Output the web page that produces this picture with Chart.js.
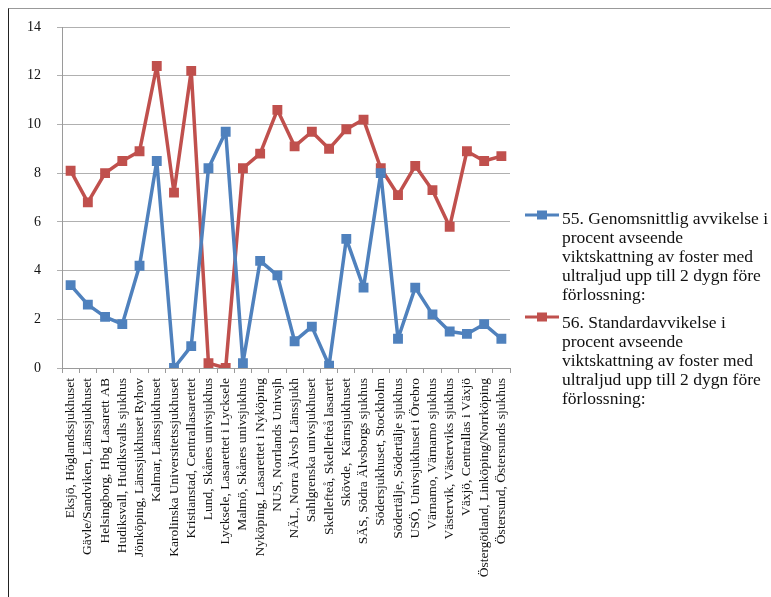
<!DOCTYPE html>
<html><head><meta charset="utf-8">
<script src="https://cdn.jsdelivr.net/npm/chart.js@4/dist/chart.umd.min.js"></script>
<style>
html,body{margin:0;padding:0;background:#fff;}
#wrap{position:absolute;left:0;top:0;width:771px;height:597px;}
#frame{position:absolute;left:8px;top:8px;width:763px;height:589px;border-left:1px solid #222;border-top:1px solid #999;pointer-events:none;}
canvas{position:absolute;left:0;top:0;}
</style></head><body>
<div id="wrap"><canvas id="c" width="771" height="597"></canvas><div id="frame"></div></div>
<script>
const categories = [
  "Eksjö, Höglandssjukhuset",
  "Gävle/Sandviken, Länssjukhuset",
  "Helsingborg, Hbg Lasarett AB",
  "Hudiksvall, Hudiksvalls sjukhus",
  "Jönköping, Länssjukhuset Ryhov",
  "Kalmar, Länssjukhuset",
  "Karolinska Universitetssjukhuset",
  "Kristianstad, Centrallasarettet",
  "Lund, Skånes univsjukhus",
  "Lycksele, Lasarettet i Lycksele",
  "Malmö, Skånes univsjukhus",
  "Nyköping, Lasarettet i Nyköping",
  "NUS, Norrlands Univsjh",
  "NÄL, Norra Älvsb Länssjukh",
  "Sahlgrenska univsjukhuset",
  "Skellefteå, Skellefteå lasarett",
  "Skövde,  Kärnsjukhuset",
  "SÄS, Södra Älvsborgs sjukhus",
  "Södersjukhuset, Stockholm",
  "Södertälje, Södertälje sjukhus",
  "USÖ, Univsjukhuset i Örebro",
  "Värnamo, Värnamo sjukhus",
  "Västervik, Västerviks sjukhus",
  "Växjö, Centrallas i Växjö",
  "Östergötland, Linköping/Norrköping",
  "Östersund, Östersunds sjukhus"
];
const avvikelse = [3.4, 2.6, 2.1, 1.8, 4.2, 8.5, 0.0, 0.9, 8.2, 9.7, 0.2, 4.4, 3.8, 1.1, 1.7, 0.1, 5.3, 3.3, 8.0, 1.2, 3.3, 2.2, 1.5, 1.4, 1.8, 1.2];
const standardavvikelse = [8.1, 6.8, 8.0, 8.5, 8.9, 12.4, 7.2, 12.2, 0.2, 0.0, 8.2, 8.8, 10.6, 9.1, 9.7, 9.0, 9.8, 10.2, 8.2, 7.1, 8.3, 7.3, 5.8, 8.9, 8.5, 8.7];
const yTickValues = [0, 2, 4, 6, 8, 10, 12, 14];
const seriesNames = [
  ["55. Genomsnittlig avvikelse i", "procent avseende", "viktskattning av foster med", "ultraljud upp till 2 dygn före", "förlossning:"],
  ["56. Standardavvikelse i", "procent avseende", "viktskattning av foster med", "ultraljud upp till 2 dygn före", "förlossning:"]
];
const seriesColors = ["#4F81BD", "#C0504D"];

const legendPlugin = {
  id: 'sideLegend',
  afterDraw(chart) {
    const ctx = chart.ctx;
    const x0 = 525, x1 = 559, tx = 562;
    const markerY = [215, 317];
    const baseY = [224, 328];
    const lh = 19;
    ctx.save();
    ctx.font = '17.5px "Liberation Serif"';
    ctx.textBaseline = 'alphabetic';
    ctx.textAlign = 'left';
    chart.data.datasets.forEach((ds, i) => {
      const y = markerY[i];
      ctx.strokeStyle = ds.borderColor;
      ctx.lineWidth = 3;
      ctx.beginPath(); ctx.moveTo(x0, y); ctx.lineTo(x1, y); ctx.stroke();
      ctx.fillStyle = ds.borderColor;
      ctx.fillRect(537, y - 4.5, 10, 9);
      ctx.fillStyle = '#111';
      ds.label.forEach((line, k) => ctx.fillText(line, tx, baseY[i] + k * lh));
    });
    ctx.restore();
  }
};

new Chart(document.getElementById('c'), {
  type: 'line',
  data: {
    labels: categories,
    datasets: [
      { label: seriesNames[0], data: avvikelse, borderColor: seriesColors[0], backgroundColor: seriesColors[0],
        borderWidth: 3.5, borderJoinStyle: 'round', pointStyle: 'rect', pointRadius: 4.5, tension: 0 },
      { label: seriesNames[1], data: standardavvikelse, borderColor: seriesColors[1], backgroundColor: seriesColors[1],
        borderWidth: 3.5, borderJoinStyle: 'round', pointStyle: 'rect', pointRadius: 4.5, tension: 0 }
    ]
  },
  options: {
    responsive: false,
    animation: false,
    layout: { padding: { left: 0, top: 27, right: 261, bottom: 0 } },
    plugins: { legend: { display: false }, tooltip: { enabled: false } },
    scales: {
      x: {
        offset: true,
        grid: { offset: true, drawOnChartArea: false, drawTicks: true, tickLength: 5, color: '#9a9a9a' },
        border: { color: '#9a9a9a', width: 1 },
        ticks: { autoSkip: false, maxRotation: 90, minRotation: 90, padding: 5, color: '#111',
                 font: { family: 'Liberation Serif', size: 13.5 } },
        afterFit(s) { s.height = 229; }
      },
      y: {
        min: 0, max: 14,
        afterBuildTicks(s) { s.ticks = yTickValues.map(v => ({ value: v })); },
        grid: { color: '#b0b0b0', tickLength: 5, lineWidth: 1 },
        border: { color: '#9a9a9a', width: 1 },
        ticks: { padding: 16, color: '#111', font: { family: 'Liberation Serif', size: 14 } },
        afterFit(s) { s.width = 62; }
      }
    }
  },
  plugins: [legendPlugin]
});
</script>
</body></html>
